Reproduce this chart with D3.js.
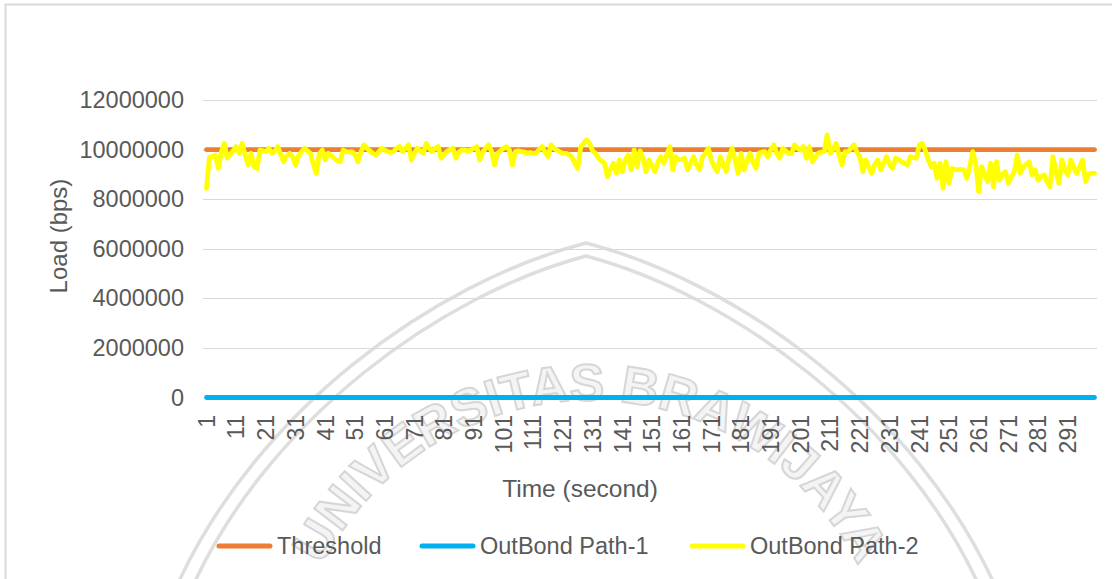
<!DOCTYPE html>
<html>
<head>
<meta charset="utf-8">
<title>Load chart</title>
<style>
  body { margin: 0; background: #fff; }
  text { font-family: "Liberation Sans", Arial, sans-serif; fill: #595959; }
</style>
</head>
<body>
<svg id="chart" width="1112" height="579"></svg>
<script src="https://d3js.org/d3.v7.min.js"></script>
<script>
// categories (seconds) and tick labels
const categories = d3.range(1, 301)
const tickLabels = categories.filter(d => d % 10 === 1)
const yTicks = [0, 2000000, 4000000, 6000000, 8000000, 10000000, 12000000]

// series values
const thresholdValue = 10000000   // Threshold (bps)
const path1Value = 0              // OutBond Path-1 (bps)
// OutBond Path-2, in Mbps
const path2Mbps = [
  8.44, 9.70, 9.72, 9.78, 9.24, 9.90, 10.25, 9.65, 9.80, 9.95,
  10.12, 9.85, 10.25, 9.80, 9.38, 9.85, 9.31, 9.24, 9.98, 9.95,
  9.92, 10.05, 9.85, 9.95, 10.12, 9.80, 9.51, 9.75, 9.85, 9.71,
  9.38, 9.75, 9.92, 10.05, 9.95, 9.85, 9.40, 9.04, 9.85, 9.98,
  9.58, 9.85, 9.75, 9.65, 9.55, 9.51, 9.98, 9.92, 9.90, 9.92,
  9.80, 9.51, 9.90, 10.19, 10.05, 9.95, 9.85, 9.78, 9.90, 10.05,
  9.98, 9.92, 9.88, 9.92, 10.05, 10.12, 9.92, 10.05, 10.19, 9.58,
  9.85, 10.05, 9.95, 9.85, 10.25, 10.05, 9.92, 10.05, 10.12, 9.65,
  9.80, 9.92, 10.00, 10.05, 9.65, 9.90, 9.98, 9.98, 9.95, 9.98,
  10.05, 10.12, 9.58, 9.90, 10.05, 10.19, 9.92, 9.38, 9.85, 9.95,
  10.05, 10.12, 9.98, 9.38, 9.92, 9.95, 9.92, 9.90, 9.85, 9.88,
  9.85, 9.85, 10.00, 10.12, 9.90, 9.71, 10.19, 10.05, 9.98, 9.90,
  9.85, 9.85, 9.80, 9.71, 9.45, 9.24, 10.10, 10.25, 10.39, 10.25,
  9.95, 9.85, 9.65, 9.55, 9.45, 8.91, 9.20, 9.45, 9.04, 9.58,
  9.11, 9.60, 9.78, 9.18, 9.98, 9.30, 9.95, 9.65, 9.11, 9.58,
  9.35, 9.11, 9.50, 9.71, 9.45, 9.80, 10.12, 9.18, 9.71, 9.58,
  9.60, 9.65, 9.18, 9.45, 9.71, 9.40, 9.18, 9.71, 9.85, 10.05,
  9.58, 9.30, 9.11, 9.71, 9.40, 9.11, 9.71, 10.05, 9.60, 9.04,
  9.85, 9.18, 9.55, 9.85, 9.50, 9.24, 9.85, 9.90, 9.92, 9.71,
  9.98, 10.19, 9.85, 9.65, 10.05, 9.95, 9.85, 9.85, 10.19, 10.05,
  9.98, 10.12, 9.65, 10.12, 9.51, 9.70, 9.85, 9.90, 9.92, 10.59,
  9.85, 10.00, 10.25, 9.78, 9.38, 9.92, 9.92, 10.05, 10.19, 9.90,
  9.71, 9.11, 9.58, 9.30, 9.04, 9.40, 9.58, 9.18, 9.45, 9.71,
  9.40, 9.24, 9.65, 9.60, 9.51, 9.45, 9.38, 9.71, 9.68, 9.65,
  10.19, 10.25, 9.98, 9.60, 9.31, 9.45, 8.84, 9.45, 8.44, 9.51,
  8.64, 9.24, 9.20, 9.18, 9.20, 9.18, 8.84, 9.30, 9.92, 9.45,
  8.30, 9.31, 9.00, 8.71, 9.45, 8.50, 9.51, 8.77, 9.00, 9.11,
  8.64, 8.90, 9.11, 9.78, 9.04, 9.31, 9.40, 9.51, 8.98, 9.18,
  8.77, 8.90, 8.98, 8.70, 8.50, 9.71, 9.10, 8.64, 9.58, 9.20,
  8.98, 9.58, 9.30, 9.04, 9.30, 9.58, 8.71, 9.00, 9.04, 9.04
]

const seriesNames = ['Threshold', 'OutBond Path-1', 'OutBond Path-2']
const seriesColors = ['#ED7D31', '#00B0F0', '#FFFF00']

const series = [
  categories.map(c => ({ c: c, v: thresholdValue })),
  categories.map(c => ({ c: c, v: path1Value })),
  categories.map((c, i) => ({ c: c, v: path2Mbps[i] * 1e6 }))
]

const svg = d3.select('#chart')

// chart frame
svg.append('rect')
  .attr('x', 5.5).attr('y', 4.5)
  .attr('width', 1200).attr('height', 700)
  .attr('fill', '#fff')
  .attr('stroke', '#d9d9d9').attr('stroke-width', 2)

// faint watermark behind the plot (double arch + lettering on a circle)
const wm = svg.append('g').attr('class', 'watermark')
wm.append('path')
  .attr('d', 'M 175 590 C 255 410, 435 282, 586 243 C 737 282, 917 410, 997 590')
  .attr('fill', 'none').attr('stroke', '#dedede').attr('stroke-width', 3.5)
wm.append('path')
  .attr('d', 'M 191 590 C 268 418, 443 294, 586 256 C 729 294, 904 418, 981 590')
  .attr('fill', 'none').attr('stroke', '#dedede').attr('stroke-width', 3.5)
wm.append('path')
  .attr('id', 'wmArc')
  .attr('d', 'M 295 646 A 300 300 0 0 1 885 646')
  .attr('fill', 'none')
wm.append('text')
  .append('textPath')
  .attr('href', '#wmArc')
  .attr('startOffset', '50%')
  .attr('text-anchor', 'middle')
  .style('font-size', '52px')
  .style('font-weight', 'bold')
  .style('fill', '#f4f4f4')
  .style('stroke', '#d6d6d6')
  .style('stroke-width', 2)
  .text('UNIVERSITAS BRAWIJAYA')

// scales
const x = d3.scaleBand()
  .domain(categories)
  .range([205, 1096])
  .padding(0)

const y = d3.scaleLinear()
  .domain([0, 12000000])
  .range([397.5, 100])

const cx = d => x(d) + x.bandwidth() / 2

// gridlines
svg.append('g')
  .selectAll('line')
  .data(yTicks.filter(t => t > 0))
  .enter().append('line')
  .attr('x1', 203).attr('x2', 1097)
  .attr('y1', d => Math.round(y(d)) + 0.5)
  .attr('y2', d => Math.round(y(d)) + 0.5)
  .attr('stroke', '#d9d9d9').attr('stroke-width', 1)

// y axis labels
const yAxis = d3.axisLeft(y).tickValues(yTicks).tickSize(0).tickPadding(0).tickFormat(d3.format('d'))
svg.append('g')
  .attr('transform', 'translate(184,0)')
  .call(yAxis)
  .call(g => g.select('.domain').remove())
  .selectAll('text')
  .style('font-size', '23.5px')
  .attr('fill', '#595959')
  .attr('font-family', '"Liberation Sans", Arial, sans-serif')

// x axis labels (rotated)
const xAxis = d3.axisBottom(x).tickValues(tickLabels).tickSize(0)
svg.append('g')
  .attr('transform', 'translate(0,415)')
  .call(xAxis)
  .call(g => g.select('.domain').remove())
  .selectAll('text')
  .style('font-size', '23px')
  .attr('fill', '#595959')
  .attr('font-family', '"Liberation Sans", Arial, sans-serif')
  .attr('text-anchor', 'end')
  .attr('transform', 'rotate(-90)')
  .attr('x', 0).attr('y', 0)
  .attr('dy', '0.36em')

// lines
const line = d3.line()
  .x(d => cx(d.c))
  .y(d => y(d.v))

svg.append('g')
  .selectAll('path')
  .data(series)
  .enter().append('path')
  .attr('d', d => line(d))
  .attr('fill', 'none')
  .attr('stroke', (d, i) => seriesColors[i])
  .attr('stroke-width', 4.8)
  .attr('stroke-linejoin', 'round')
  .attr('stroke-linecap', 'round')

// axis titles
svg.append('text')
  .attr('transform', 'translate(58,236) rotate(-90)')
  .attr('text-anchor', 'middle')
  .attr('dy', '0.36em')
  .style('font-size', '24px')
  .text('Load  (bps)')

svg.append('text')
  .attr('x', 580).attr('y', 497)
  .attr('text-anchor', 'middle')
  .style('font-size', '24.5px')
  .text('Time  (second)')

// legend
const legendX = [217, 420, 690]
const legend = svg.append('g')
  .selectAll('g')
  .data(seriesNames)
  .enter().append('g')
  .attr('transform', (d, i) => 'translate(' + legendX[i] + ',546)')

legend.append('line')
  .attr('x1', 2).attr('x2', 53)
  .attr('stroke', (d, i) => seriesColors[i])
  .attr('stroke-width', 5)
  .attr('stroke-linecap', 'round')

legend.append('text')
  .attr('x', 60)
  .attr('dy', '0.36em')
  .style('font-size', '23.5px')
  .text(d => d)
</script>
</body>
</html>
